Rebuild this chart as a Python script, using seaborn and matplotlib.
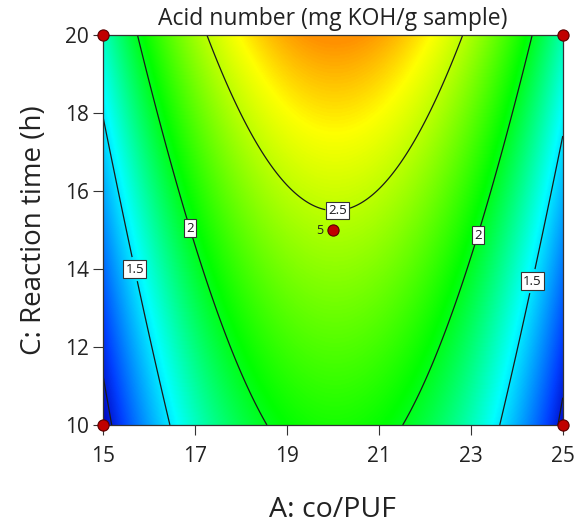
import numpy as np
import pandas as pd
import seaborn as sns
import matplotlib
matplotlib.use("Agg")
import matplotlib.pyplot as plt
from matplotlib.colors import LinearSegmentedColormap

# Fitted quadratic model (coded units: a=(A-20)/5, c=(C-15)/5)
coef_names = ["b0", "bA", "bC", "bAC", "bA2", "bC2"]
coef_values = [2.462, 0.02, 0.38, 0.0, -1.17, 0.02]
# Design points
design_A = [15, 15, 25, 25, 20]
design_C = [10, 20, 10, 20, 15]
design_label = ["", "", "", "", "5"]
unlabelled_levels = [1.0]
labelled_levels = [1.5, 2.0, 2.5]
label_pos = [(15.7, 14.0), (16.9, 15.05), (20.1, 15.55), (23.2, 14.85), (24.3, 13.7)]
x_ticks = [15, 17, 19, 21, 23, 25]
y_ticks = [10, 12, 14, 16, 18, 20]
# colour anchors (response value -> colour)
color_values = [0.9, 1.1, 1.55, 2.05, 2.66, 2.85]
color_list = [(0.0, 0.0, 0.72), (0.0, 0.25, 1.0), (0.0, 1.0, 1.0),
              (0.0, 1.0, 0.0), (1.0, 1.0, 0.0), (1.0, 0.57, 0.0)]

coef = dict(zip(coef_names, coef_values))

sns.set_theme(style="white")
plt.rcParams["font.family"] = ["Open Sans", "DejaVu Sans"]

fig = plt.figure(figsize=(5.85, 5.24), dpi=100)
ax = fig.add_axes([0.176, 0.189, 0.786, 0.744])

A = np.linspace(15, 25, 400)
C = np.linspace(10, 20, 400)
AA, CC = np.meshgrid(A, C)
a = (AA - 20) / 5
c = (CC - 15) / 5
Z = (coef["b0"] + coef["bA"] * a + coef["bC"] * c + coef["bAC"] * a * c
     + coef["bA2"] * a ** 2 + coef["bC2"] * c ** 2)

vmin, vmax = color_values[0], color_values[-1]
cmap = LinearSegmentedColormap.from_list(
    "de", [((v - vmin) / (vmax - vmin), col) for v, col in zip(color_values, color_list)])
ax.imshow(Z, extent=[15, 25, 10, 20], origin="lower", cmap=cmap,
          vmin=vmin, vmax=vmax, aspect="auto", interpolation="bilinear")
ax.contour(AA, CC, Z, levels=unlabelled_levels, colors="#1a1a1a", linewidths=0.9)
cs = ax.contour(AA, CC, Z, levels=labelled_levels, colors="#1a1a1a", linewidths=0.9)
labels = ax.clabel(cs, fmt=lambda v: f"{v:g}", fontsize=9.5,
                   inline=True, manual=label_pos, inline_spacing=3)
for t in labels:
    t.set_bbox(dict(facecolor="white", edgecolor="#333333", boxstyle="square,pad=0.18", linewidth=0.8))
    t.set_rotation(0)

df = pd.DataFrame({"A": design_A, "C": design_C})
sns.scatterplot(data=df, x="A", y="C", ax=ax, color="#c00000", edgecolor="#5a0000",
                s=65, linewidth=0.8, zorder=10, clip_on=False, legend=False)
for xa, yc, lab in zip(design_A, design_C, design_label):
    if lab:
        ax.text(xa - 0.2, yc, lab, fontsize=9, ha="right", va="center", color="#222222")

ax.set_xlim(15, 25)
ax.set_ylim(10, 20)
ax.set_xticks(x_ticks)
ax.set_yticks(y_ticks)
ax.tick_params(axis="both", which="major", labelsize=15, length=7, width=0.8,
               direction="out", bottom=True, left=True, color="#333333",
               labelcolor="#222222")
ax.tick_params(axis="x", pad=8)
ax.tick_params(axis="y", pad=3)
for s in ax.spines.values():
    s.set_color("#333333")
    s.set_linewidth(0.9)
ax.set_xlabel("A: co/PUF", fontsize=20.5, labelpad=21, color="#222222")
ax.set_ylabel("C: Reaction time (h)", fontsize=20, labelpad=12, color="#222222")
ax.set_title("Acid number (mg KOH/g sample)", fontsize=16.5, pad=7, color="#222222")

fig.savefig("out.png", dpi=100)
